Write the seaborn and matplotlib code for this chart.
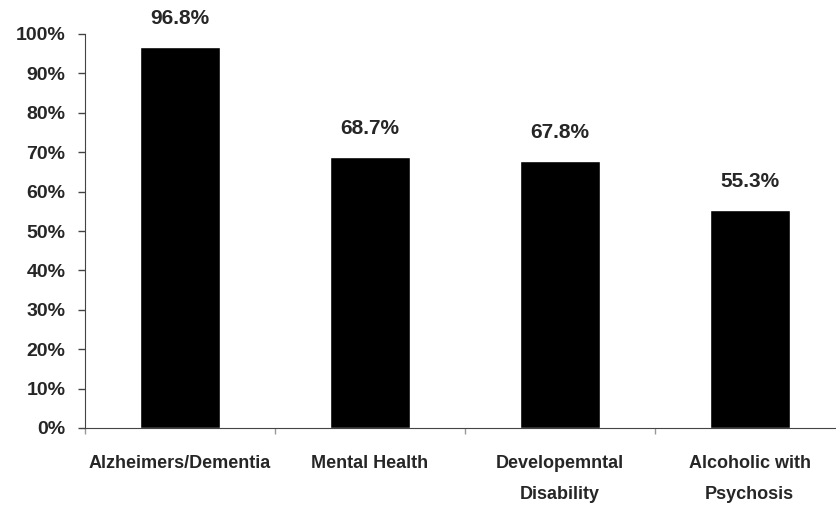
import numpy as np
import pandas as pd
import matplotlib
matplotlib.use("Agg")
import matplotlib.pyplot as plt
import seaborn as sns
from matplotlib.ticker import FixedLocator

# data
categories = ["Alzheimers/Dementia", "Mental Health", "Developemntal\nDisability", "Alcoholic with\nPsychosis"]
values = [96.8, 68.7, 67.8, 55.3]
value_labels = ["96.8%", "68.7%", "67.8%", "55.3%"]
ytick_vals = list(range(0, 101, 10))

df = pd.DataFrame({"Category": categories, "Percent": values})

sns.set_style("white")
plt.rcParams['font.family'] = ['Liberation Sans', 'DejaVu Sans']

fig = plt.figure(figsize=(8.37, 5.07), dpi=100)
ax = fig.add_axes([85/837, 79/507, 1 - 85/837, (428-34)/507])

sns.barplot(data=df, x="Category", y="Percent", color="black", width=0.42,
            saturation=1, ax=ax)

ax.set_ylim(0, 100)
ax.set_xlim(-0.5, 3.46)
ax.set_yticks(ytick_vals)
ax.set_yticklabels([f"{v}%" for v in ytick_vals], fontsize=14, fontweight="bold")
ax.tick_params(axis="y", left=True, length=5, width=1, color="#444444", pad=9)

ax.set_xticks(range(len(categories)))
ax.set_xticklabels(categories, fontsize=13, fontweight="bold", linespacing=2.05)
ax.tick_params(axis="x", bottom=False, pad=16)
ax.xaxis.set_minor_locator(FixedLocator([-0.5, 0.5, 1.5, 2.5]))
ax.tick_params(axis="x", which="minor", bottom=True, length=4, width=1, color="#999999")

for i, (v, lab) in enumerate(zip(values, value_labels)):
    ax.text(i, v + 4.8, lab, ha="center", va="bottom", fontsize=15, fontweight="bold")

sns.despine(ax=ax, top=True, right=True)
ax.spines["left"].set_color("#444444")
ax.spines["bottom"].set_color("#444444")
ax.set_xlabel("")
ax.set_ylabel("")

fig.savefig("out.png", dpi=100)
